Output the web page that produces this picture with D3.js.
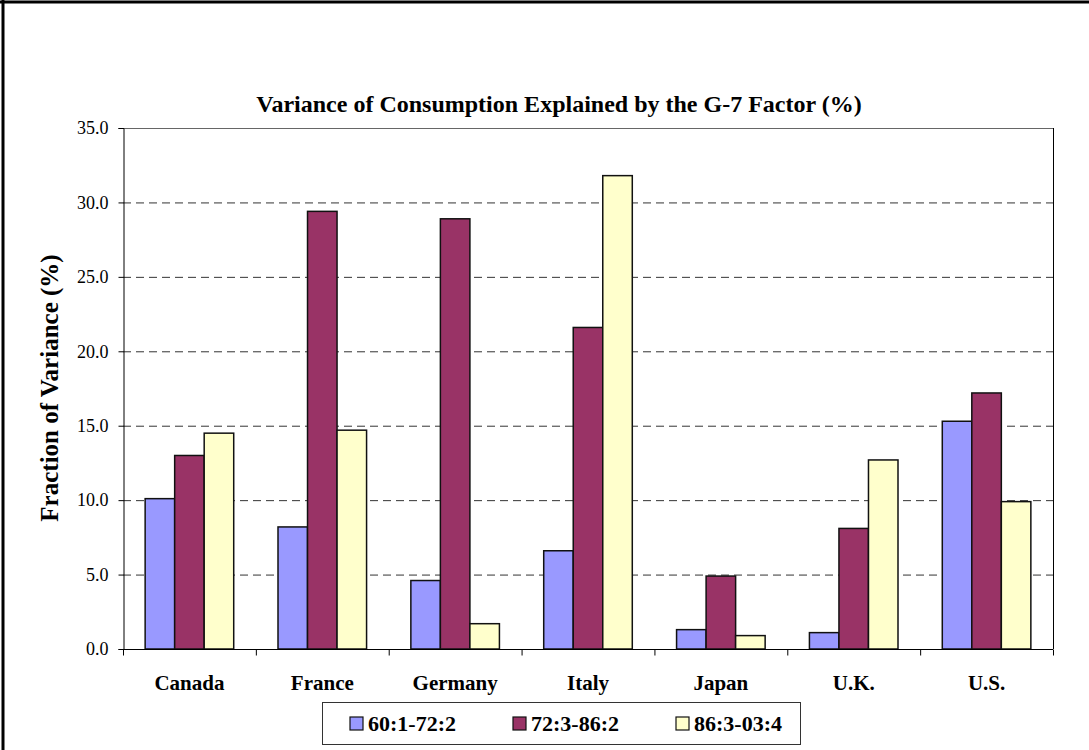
<!DOCTYPE html>
<html lang="en">
<head>
  <meta charset="utf-8">
  <title>Variance of Consumption Explained by the G-7 Factor</title>
  <script src="https://cdn.jsdelivr.net/npm/d3@7"></script>
  <style>
    body { margin: 0; background: #fff; }
    text { font-family: "Liberation Serif", "Times New Roman", serif; }
  </style>
</head>
<body>
  <svg class="chart" width="1089" height="750"></svg>
  <script>
    var countries = ["Canada", "France", "Germany", "Italy", "Japan", "U.K.", "U.S."];
    var periods = ["60:1-72:2", "72:3-86:2", "86:3-03:4"];
    var p1 = [10.1, 8.2, 4.6, 6.6, 1.3, 1.1, 15.3];
    var p2 = [13.0, 29.4, 28.9, 21.6, 4.9, 8.1, 17.2];
    var p3 = [14.5, 14.7, 1.7, 31.8, 0.9, 12.7, 9.9];
    var yTicks = [0, 5, 10, 15, 20, 25, 30, 35];
    var colors = ["#9999ff", "#993366", "#ffffcc"];

    var series = [p1, p2, p3];
    var plotLeft = 123, plotRight = 1053, plotTop = 128, plotBottom = 649;

    var svg = d3.select("svg.chart");

    // outer frame (only top and left edges show)
    svg.append("line").attr("x1", 0).attr("x2", 1089).attr("y1", 2).attr("y2", 2)
       .attr("stroke", "#000").attr("stroke-width", 3);
    svg.append("line").attr("x1", 3).attr("x2", 3).attr("y1", 0).attr("y2", 750)
       .attr("stroke", "#000").attr("stroke-width", 3);

    var x0 = d3.scaleBand().domain(countries).range([plotLeft, plotRight]);
    var barW = x0.bandwidth() / 4.5;
    var x1 = d3.scaleBand().domain(d3.range(3)).range([barW * 0.75, barW * 3.75]);

    var y = d3.scaleLinear().domain([0, 35]).range([plotBottom, plotTop]);

    // gridlines
    svg.append("g").selectAll("line").data(yTicks.filter(function(t) { return t > 0; }))
       .enter().append("line")
       .attr("x1", plotLeft).attr("x2", plotRight)
       .attr("y1", function(d) { return y(d) + 0.5; })
       .attr("y2", function(d) { return y(d) + 0.5; })
       .attr("stroke", "#333").attr("stroke-width", 1)
       .attr("stroke-dasharray", "8,5");

    // bars
    var groups = svg.append("g").selectAll("g").data(countries).enter().append("g")
       .attr("transform", function(d) { return "translate(" + x0(d) + ",0)"; });

    groups.selectAll("rect")
       .data(function(d, i) { return series.map(function(s, k) { return { k: k, v: s[i] }; }); })
       .enter().append("rect")
       .attr("x", function(d) { return x1(d.k); })
       .attr("width", x1.bandwidth())
       .attr("y", function(d) { return y(d.v); })
       .attr("height", function(d) { return y(0) - y(d.v); })
       .attr("fill", function(d) { return colors[d.k]; })
       .attr("stroke", "#111").attr("stroke-width", 1.5);

    // plot frame right and top
    svg.append("line").attr("x1", plotRight + 0.5).attr("x2", plotRight + 0.5)
       .attr("y1", plotTop).attr("y2", plotBottom)
       .attr("stroke", "#000").attr("stroke-width", 1);
    svg.append("line").attr("x1", plotLeft).attr("x2", plotRight)
       .attr("y1", plotTop + 0.5).attr("y2", plotTop + 0.5)
       .attr("stroke", "#666").attr("stroke-width", 1);

    // y axis
    var yAxis = svg.append("g").attr("transform", "translate(" + (plotLeft + 0.5) + ",0)")
       .call(d3.axisLeft(y).tickValues(yTicks).tickFormat(d3.format(".1f")).tickSize(5).tickPadding(10));
    yAxis.select(".domain").attr("stroke", "#000");
    yAxis.selectAll("text").style("font-size", "18px").style("font-family", "Liberation Serif").attr("fill", "#000");

    // x axis
    var xAxis = svg.append("g").attr("transform", "translate(0," + (plotBottom + 0.5) + ")")
       .call(d3.axisBottom(x0).tickSize(0).tickPadding(26));
    xAxis.select(".domain").attr("stroke", "#000").attr("d", "M" + plotLeft + ",0H" + plotRight);
    xAxis.selectAll("text").style("font-size", "21px").style("font-weight", "bold")
       .style("font-family", "Liberation Serif").attr("fill", "#000");
    xAxis.selectAll(".boundary").data(d3.range(countries.length + 1)).enter().append("line")
       .attr("x1", function(i) { return plotLeft + i * x0.step() + 0.5; })
       .attr("x2", function(i) { return plotLeft + i * x0.step() + 0.5; })
       .attr("y1", 0).attr("y2", 6).attr("stroke", "#000");

    // title
    svg.append("text").attr("x", 559).attr("y", 112).attr("text-anchor", "middle")
       .style("font-size", "24px").style("font-weight", "bold")
       .text("Variance of Consumption Explained by the G-7 Factor (%)");

    // y axis title
    svg.append("text").attr("transform", "translate(58,388) rotate(-90)")
       .attr("text-anchor", "middle")
       .style("font-size", "25px").style("font-weight", "bold")
       .text("Fraction of Variance (%)");

    // legend
    var legend = svg.append("g").attr("transform", "translate(322,702)");
    legend.append("rect").attr("x", 0.5).attr("y", 0.5).attr("width", 478).attr("height", 42)
       .attr("fill", "#fff").attr("stroke", "#333").attr("stroke-width", 1);
    var items = legend.selectAll("g.item").data(periods).enter().append("g")
       .attr("transform", function(d, i) { return "translate(" + (28 + i * 163) + ",0)"; });
    items.append("rect").attr("x", 0).attr("y", 15).attr("width", 13).attr("height", 13)
       .attr("fill", function(d, i) { return colors[i]; })
       .attr("stroke", "#111").attr("stroke-width", 1.2);
    items.append("text").attr("x", 18).attr("y", 29)
       .style("font-size", "22px").style("font-weight", "bold")
       .text(function(d) { return d; });
  </script>
</body>
</html>
